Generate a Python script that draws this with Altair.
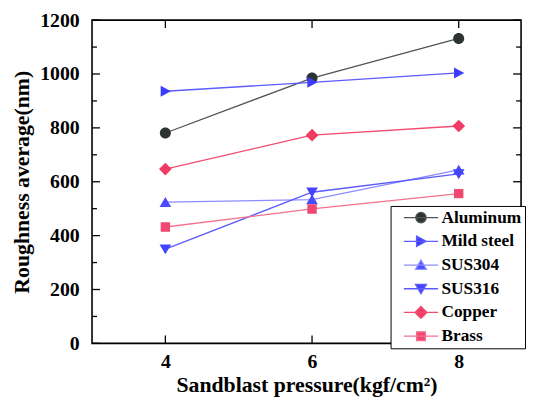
import altair as alt
import pandas as pd

pressure = [4, 6, 8]
series = ["Aluminum", "Mild steel", "SUS304", "SUS316", "Copper", "Brass"]
aluminum = [781, 985, 1132]
mild_steel = [936, 969, 1004]
sus304 = [524, 534, 644]
sus316 = [350, 561, 629]
copper = [647, 773, 807]
brass = [432, 499, 556]
values = [aluminum, mild_steel, sus304, sus316, copper, brass]

marker_colors = ["#2d3333", "#3c3cff", "#4a4aff", "#4444ff", "#f03c64", "#f04870"]
line_colors = ["#505656", "#5c5cff", "#8c8cff", "#5a5aff", "#f24a70", "#f5708e"]

L = " M-3.3,0H3.3"
shapes = [
    "M-1,0A1,1,0,1,1,1,0A1,1,0,1,1,-1,0Z" + L,
    "M-0.85,-1L1,0L-0.85,1Z" + L,
    "M0,-0.95L1.05,0.85L-1.05,0.85Z" + L,
    "M0,0.95L1.05,-0.85L-1.05,-0.85Z" + L,
    "M0,-1.15L1.15,0L0,1.15L-1.15,0Z" + L,
    "M-0.85,-0.85H0.85V0.85H-0.85Z" + L,
]

y_major = [0, 200, 400, 600, 800, 1000, 1200]
y_minor = [100, 300, 500, 700, 900, 1100]
x_major = [4, 6, 8]

rows = []
for s, vals in zip(series, values):
    for p, v in zip(pressure, vals):
        rows.append({"series": s, "pressure": p, "roughness": v})
df = pd.DataFrame(rows)

W, H = 434, 327
FONT = "Liberation Serif"

xscale = alt.Scale(domain=[3, 8.85], nice=False)
yscale = alt.Scale(domain=[0, 1200], nice=False)

xenc = alt.X("pressure:Q", scale=xscale,
             axis=alt.Axis(values=x_major, format="d", title="Sandblast pressure(kgf/cm²)",
                           ticks=False, domain=False, grid=False, labelPadding=8,
                           titlePadding=4))
yenc = alt.Y("roughness:Q", scale=yscale,
             axis=alt.Axis(values=y_major, format="d", title="Roughness average(nm)",
                           ticks=False, domain=False, grid=False, labelPadding=13,
                           titlePadding=6))

line_layers = [
    alt.Chart(df[df["series"] == s]).mark_line(strokeWidth=1.3, color=lc).encode(
        x=xenc, y=yenc)
    for s, lc in zip(series, line_colors)
]

leg = alt.Legend(
    title=None, orient="none", legendX=302, legendY=188,
    padding=3, strokeColor="black", fillColor="white",
    labelFont=FONT, labelFontSize=17.5, labelFontWeight="bold",
    labelColor="black", symbolSize=110, rowPadding=5,
    symbolOffset=19, labelOffset=12, labelLimit=200, symbolStrokeWidth=1.3,
)

points = alt.Chart(df).mark_point(filled=True, opacity=1, size=125).encode(
    x="pressure:Q", y="roughness:Q",
    color=alt.Color("series:N", scale=alt.Scale(domain=series, range=marker_colors),
                    legend=leg),
    stroke=alt.Stroke("series:N", scale=alt.Scale(domain=series, range=line_colors),
                      legend=leg),
    shape=alt.Shape("series:N", scale=alt.Scale(domain=series, range=shapes), legend=leg),
    strokeWidth=alt.value(0),
)

tdf_ymaj = pd.DataFrame({"v": y_major})
tdf_ymin = pd.DataFrame({"v": y_minor})
tdf_x = pd.DataFrame({"v": x_major})

def yticks(data, length):
    left = alt.Chart(data).mark_rule(color="black", strokeWidth=1.3).encode(
        y=alt.Y("v:Q", scale=yscale), x=alt.value(0), x2=alt.value(length))
    right = alt.Chart(data).mark_rule(color="black", strokeWidth=1.3).encode(
        y=alt.Y("v:Q", scale=yscale), x=alt.value(W), x2=alt.value(W - length))
    return left + right

xb = alt.Chart(tdf_x).mark_rule(color="black", strokeWidth=1.3).encode(
    x=alt.X("v:Q", scale=xscale), y=alt.value(H), y2=alt.value(H - 8))
xt = alt.Chart(tdf_x).mark_rule(color="black", strokeWidth=1.3).encode(
    x=alt.X("v:Q", scale=xscale), y=alt.value(0), y2=alt.value(8))

chart = alt.layer(
    *line_layers, yticks(tdf_ymaj, 8), yticks(tdf_ymin, 5), xb, xt, points
).properties(
    width=W, height=H, background="white",
    padding={"left": 3, "top": 0, "right": 0, "bottom": 0},
).configure_view(
    stroke="black", strokeWidth=1.6
).configure_axis(
    labelFont=FONT, labelFontSize=20, labelFontWeight="bold", labelColor="black",
    titleFont=FONT, titleFontSize=22, titleFontWeight="bold", titleColor="black",
)

chart.save("out.html", embed_options={"renderer": "svg", "actions": False})
